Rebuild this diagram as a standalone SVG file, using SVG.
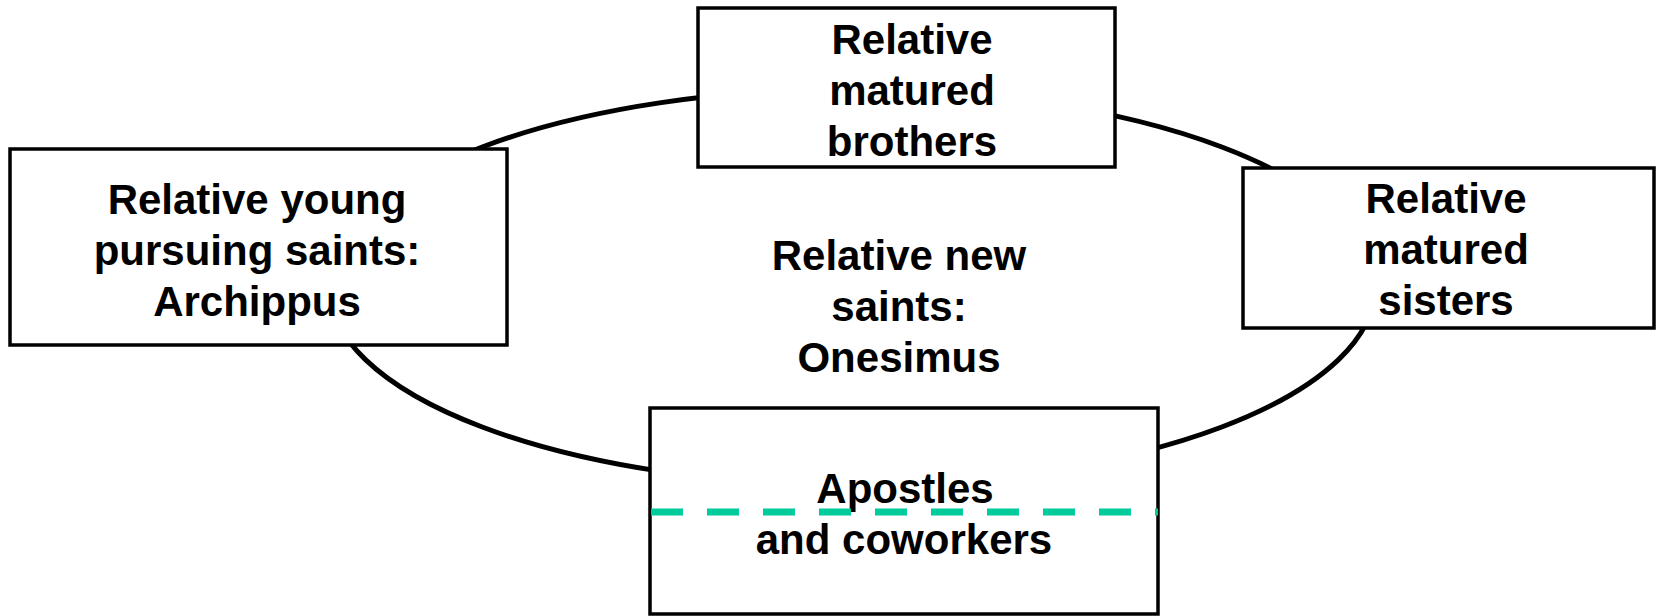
<svg xmlns="http://www.w3.org/2000/svg" width="1656" height="616" viewBox="0 0 1656 616">
<style>
.box{fill:#fff;stroke:#000;stroke-width:3.5}
.lbl{font-family:"Liberation Sans",Arial,sans-serif;font-weight:bold;font-size:42px;fill:#000;text-anchor:middle}
.ring{fill:none;stroke:#000;stroke-width:5}
.dash{stroke:#00CC99;stroke-width:7;stroke-dasharray:32 24}
</style>
<rect width="1656" height="616" fill="#fff"/>
<g id="connectors">
<ellipse class="ring" cx="852" cy="287" rx="523" ry="198"/>
</g>
<g id="node-brothers">
<rect class="box" x="698" y="8" width="417" height="159"/>
<text class="lbl" x="912" y="54">Relative</text>
<text class="lbl" x="912" y="105">matured</text>
<text class="lbl" x="912" y="156">brothers</text>
</g>
<g id="node-young">
<rect class="box" x="10" y="149" width="497" height="196"/>
<text class="lbl" x="257" y="214">Relative young</text>
<text class="lbl" x="257" y="265">pursuing saints:</text>
<text class="lbl" x="257" y="316">Archippus</text>
</g>
<g id="node-sisters">
<rect class="box" x="1243" y="168" width="411" height="160"/>
<text class="lbl" x="1446" y="213">Relative</text>
<text class="lbl" x="1446" y="264">matured</text>
<text class="lbl" x="1446" y="315">sisters</text>
</g>
<g id="node-new">
<text class="lbl" x="899" y="270">Relative new</text>
<text class="lbl" x="899" y="321">saints:</text>
<text class="lbl" x="899" y="372">Onesimus</text>
</g>
<g id="node-apostles">
<rect class="box" x="650" y="408" width="508" height="206"/>
<text class="lbl" x="905" y="503">Apostles</text>
<line class="dash" x1="651" y1="512" x2="1158" y2="512"/>
<text class="lbl" x="904" y="554">and coworkers</text>
</g>
</svg>
